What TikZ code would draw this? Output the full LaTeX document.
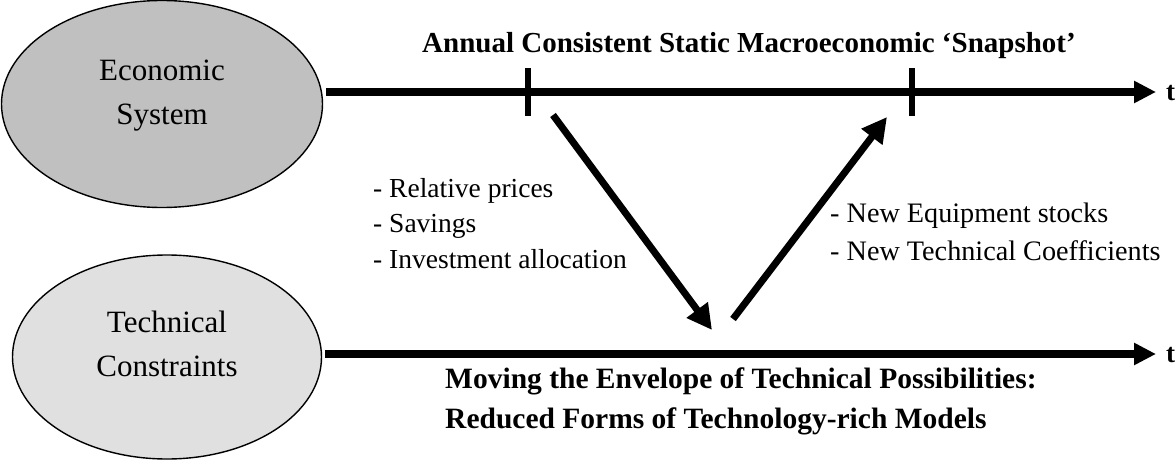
\documentclass[tikz,border=0pt]{standalone}
\usepackage{fontspec}
\setmainfont{Liberation Serif}
\usetikzlibrary{arrows.meta,shapes.geometric}
\definecolor{econfill}{RGB}{192,192,192}
\definecolor{techfill}{RGB}{224,224,224}
\begin{document}
\begin{tikzpicture}[x=1pt,y=-1pt,
  ell/.style={ellipse,draw=black,line width=1.4pt,inner sep=0pt},
  elltext/.style={align=center,inner sep=0pt,font=\fontsize{31}{44}\selectfont},
  timeline/.style={line width=7.5pt,-{Triangle[length=22pt,width=21pt]}},
  ticklines/.style={line width=6.5pt},
  flow/.style={line width=7pt,-{Triangle[length=25pt,width=25pt]}},
  lbl/.style={anchor=base west,inner sep=0pt,font=\fontsize{27.5}{33}\selectfont},
  rlbl/.style={anchor=base west,inner sep=0pt,font=\fontsize{28.2}{33}\selectfont},
  boldlbl/.style={anchor=base west,inner sep=0pt,font=\fontsize{29}{35}\selectfont\bfseries},
  boldlow/.style={anchor=base west,inner sep=0pt,font=\fontsize{29.5}{35}\selectfont\bfseries},
  tlbl/.style={anchor=base west,inner sep=0pt,font=\fontsize{27}{32}\selectfont\bfseries}]
\useasboundingbox (0,0) rectangle (1176,463);
% ellipses
\node[ell,fill=econfill,minimum width=321pt,minimum height=207pt] (econ) at (162,104) {};
\node[elltext] (econtxt) at (162,96) {Economic\\System};
\node[ell,fill=techfill,minimum width=309pt,minimum height=204pt] (tech) at (167,357) {};
\node[elltext] (techtxt) at (167,344) {Technical\\Constraints};
% timelines
\coordinate (topstart) at (326,92);
\coordinate (topend) at (1156,92);
\coordinate (botstart) at (325,354);
\coordinate (botend) at (1156,354);
\draw[timeline] (topstart) -- (topend);
\draw[timeline] (botstart) -- (botend);
\node[tlbl] (ttop) at (1166,100) {t};
\node[tlbl] (tbot) at (1166,362) {t};
% ticks
\coordinate (tickAa) at (528,68);
\coordinate (tickAb) at (528,116);
\coordinate (tickBa) at (912,68);
\coordinate (tickBb) at (912,116);
\draw[ticklines] (tickAa) -- (tickAb);
\draw[ticklines] (tickBa) -- (tickBb);
% flows
\coordinate (downs) at (553,115);
\coordinate (downe) at (712,330);
\coordinate (ups) at (733,319);
\coordinate (upe) at (887,117);
\draw[flow] (downs) -- (downe);
\draw[flow] (ups) -- (upe);
% texts
\node[boldlbl] (title) at (422,52) {Annual Consistent Static Macroeconomic ‘Snapshot’};
\node[lbl] (l1) at (373,197) {- Relative prices};
\node[lbl] (l2) at (373,232) {- Savings};
\node[lbl] (l3) at (373,268) {- Investment allocation};
\node[rlbl] (r1) at (830,222) {- New Equipment stocks};
\node[rlbl] (r2) at (830,260) {- New Technical Coefficients};
\node[boldlow] (b1) at (445,388) {Moving the Envelope of Technical Possibilities:};
\node[boldlow] (b2) at (445,428) {Reduced Forms of Technology-rich Models};
\end{tikzpicture}
\end{document}
